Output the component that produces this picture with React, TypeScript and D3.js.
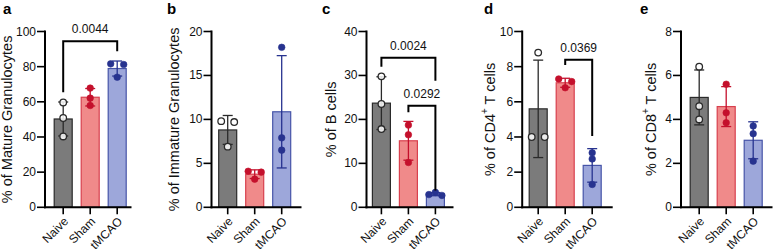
import React from "react";
import * as d3 from "d3";

// ---------- data ----------
const groups = ["Naive", "Sham", "tMCAO"];

const matureGran = [
  [59.6, 50.8, 40.3],
  [67.8, 62.1, 57.9],
  [81.6, 81.2, 74.0],
];
const immatureGran = [
  [9.8, 9.7, 6.9],
  [4.1, 4.0, 3.2],
  [18.2, 7.9, 6.5],
];
const bCells = [
  [29.8, 23.5, 17.8],
  [18.7, 16.5, 10.2],
  [3.4, 2.9, 2.7],
];
const cd4 = [
  [8.8, 4.0, 4.0],
  [7.3, 7.15, 6.8],
  [3.1, 2.75, 1.3],
];
const cd8 = [
  [6.4, 4.6, 4.0],
  [5.6, 4.3, 3.85],
  [3.7, 3.35, 2.1],
];

const yMaxes = [100, 20, 40, 10, 8];
const yTickSteps = [20, 5, 10, 2, 2];
const panelLetters = ["a", "b", "c", "d", "e"];

// comparisons: [fromGroup, toGroup, label, bracketValue, leftLegEnd, rightLegEnd]
const compA = [[0, 2, "0.0044", 94.5, 65.5, 88.7]];
const compB: any[] = [];
const compC = [
  [0, 2, "0.0024", 34, 32, 28.8],
  [1, 2, "0.0292", 23.1, 21.6, 3.8],
];
const compD = [[1, 2, "0.0369", 8.39, 8.1, 4.06]];
const compE: any[] = [];

// ---------- styles / layout ----------
const FONT = "'Liberation Sans', Arial, Helvetica, sans-serif";
const barFill = ["#7b7b7b", "#f08a8a", "#9da7da"];
const barStroke = ["#2a2a2a", "#d8404e", "#4654a8"];
const pointColor = ["#2a2a2a", "#c4102c", "#27338f"];
const Y0 = 207.3;
const YTOP = 31.5;

const layouts = [
  { ax: 45, band: 9.2, len: 86.5, lab: 38.5, letter: 3 },
  { ax: 211.5, band: 7.2, len: 90, lab: 37.5, letter: 167 },
  { ax: 366.5, band: 5.9, len: 87, lab: 35.5, letter: 322 },
  { ax: 522.2, band: 7, len: 90.5, lab: 32.5, letter: 484 },
  { ax: 681, band: 9.2, len: 91.5, lab: 30.5, letter: 640 },
];

function YLabel({ idx }: { idx: number }) {
  if (idx === 0) return <>% of Mature Granulocytes</>;
  if (idx === 1) return <>% of Immature Granulocytes</>;
  if (idx === 2) return <>% of B cells</>;
  if (idx === 3)
    return (
      <>
        % of CD4<tspan baselineShift="super" fontSize="10">+</tspan> T cells
      </>
    );
  return (
    <>
      % of CD8<tspan baselineShift="super" fontSize="10">+</tspan> T cells
    </>
  );
}

function spreadOffsets(vals: number[], y: (v: number) => number) {
  const order = vals.map((v, i) => i).sort((a, b) => vals[b] - vals[a]);
  const rows: number[][] = [];
  order.forEach((i) => {
    const last = rows[rows.length - 1];
    if (last && Math.abs(y(vals[i]) - y(vals[last[0]])) < 5) last.push(i);
    else rows.push([i]);
  });
  const off = new Array(vals.length).fill(0);
  rows.forEach((r) => {
    if (r.length === 2) {
      off[r[0]] = -6.5;
      off[r[1]] = 6.5;
    } else if (r.length === 3) {
      off[r[0]] = 0;
      off[r[1]] = -6.5;
      off[r[2]] = 6.5;
    }
  });
  return off;
}

function Panel({ idx, data, comps }: { idx: number; data: number[][]; comps: any[] }) {
  const L = layouts[idx];
  const y = d3.scaleLinear().domain([0, yMaxes[idx]]).range([Y0, YTOP]);
  const x = d3
    .scaleBand()
    .domain(groups)
    .range([L.ax + L.band, L.ax + L.band + 72])
    .paddingInner(1 / 3)
    .paddingOuter(0);
  const bw = x.bandwidth();
  const ticks = d3.range(0, yMaxes[idx] + 1e-9, yTickSteps[idx]);
  const cx = (g: string) => (x(g) as number) + bw / 2;

  return (
    <g>
      <text
        x={L.letter}
        y={14}
        fontFamily={FONT}
        fontWeight="bold"
        fontSize={15}
        fill="#000"
      >
        {panelLetters[idx]}
      </text>
      <text
        transform={`translate(${L.ax - L.lab},${(Y0 + YTOP) / 2}) rotate(-90)`}
        textAnchor="middle"
        dominantBaseline="central"
        fontFamily={FONT}
        fontSize={14.5}
        fill="#111"
      >
        <YLabel idx={idx} />
      </text>
      {/* bars */}
      {groups.map((g, gi) => {
        const m = d3.mean(data[gi]) as number;
        return (
          <rect
            key={"b" + g}
            x={x(g)}
            y={y(m)}
            width={bw}
            height={Y0 - y(m)}
            fill={barFill[gi]}
            stroke={barStroke[gi]}
            strokeWidth={1.2}
          />
        );
      })}
      {/* error bars */}
      {groups.map((g, gi) => {
        const m = d3.mean(data[gi]) as number;
        const sd = d3.deviation(data[gi]) as number;
        const c = cx(g);
        const col = pointColor[gi];
        return (
          <g key={"e" + g} stroke={col} strokeWidth={1.3}>
            <line x1={c} x2={c} y1={y(m + sd)} y2={y(Math.max(0, m - sd))} />
            <line x1={c - 5} x2={c + 5} y1={y(m + sd)} y2={y(m + sd)} />
            <line x1={c - 5} x2={c + 5} y1={y(m - sd)} y2={y(m - sd)} />
          </g>
        );
      })}
      {/* points */}
      {groups.map((g, gi) => {
        const off = spreadOffsets(data[gi], y);
        return data[gi].map((v, i) => (
          <circle
            key={"p" + g + i}
            cx={cx(g) + off[i]}
            cy={y(v)}
            r={3.3}
            fill={gi === 0 ? "#fff" : pointColor[gi]}
            fillOpacity={gi === 0 ? 0.85 : 1}
            stroke={pointColor[gi]}
            strokeWidth={gi === 0 ? 1.3 : 0.6}
          />
        ));
      })}
      {/* y axis */}
      <line x1={L.ax} x2={L.ax} y1={YTOP - 1} y2={Y0 + 1} stroke="#000" strokeWidth={2} />
      {ticks.map((t) => (
        <g key={"yt" + t}>
          <line x1={L.ax - 8} x2={L.ax} y1={y(t)} y2={y(t)} stroke="#000" strokeWidth={1.6} />
          <text
            x={L.ax - 9}
            y={y(t)}
            textAnchor="end"
            dominantBaseline="central"
            fontFamily={FONT}
            fontSize={12}
            fill="#111"
          >
            {t}
          </text>
        </g>
      ))}
      {/* x axis */}
      <line x1={L.ax - 1} x2={L.ax + L.len} y1={Y0} y2={Y0} stroke="#000" strokeWidth={2} />
      {groups.map((g) => (
        <g key={"xt" + g}>
          <line x1={cx(g)} x2={cx(g)} y1={Y0} y2={Y0 + 7} stroke="#000" strokeWidth={1.6} />
          <text
            transform={`translate(${cx(g) + 3},${Y0 + 12}) rotate(-45)`}
            textAnchor="end"
            dominantBaseline="central"
            fontFamily={FONT}
            fontSize={12}
            fill="#111"
          >
            {g}
          </text>
        </g>
      ))}
      {/* significance brackets */}
      {comps.map((c: any, ci: number) => {
        const x1 = cx(groups[c[0]]);
        const x2 = cx(groups[c[1]]);
        const yb = y(c[3]);
        return (
          <g key={"c" + ci}>
            <path
              d={`M${x1},${y(c[4])}V${yb}H${x2}V${y(c[5])}`}
              fill="none"
              stroke="#000"
              strokeWidth={2}
            />
            <text
              x={(x1 + x2) / 2}
              y={yb - 8}
              textAnchor="middle"
              fontFamily={FONT}
              fontSize={12}
              fill="#111"
            >
              {c[2]}
            </text>
          </g>
        );
      })}
    </g>
  );
}

export default function App() {
  const datasets = [matureGran, immatureGran, bCells, cd4, cd8];
  const comps = [compA, compB, compC, compD, compE];
  return (
    <svg
      width={776}
      height={251}
      style={{ position: "absolute", left: 0, top: 0, background: "#fff" }}
    >
      <rect width={776} height={251} fill="#fff" />
      {datasets.map((d, i) => (
        <Panel key={i} idx={i} data={d} comps={comps[i]} />
      ))}
    </svg>
  );
}
